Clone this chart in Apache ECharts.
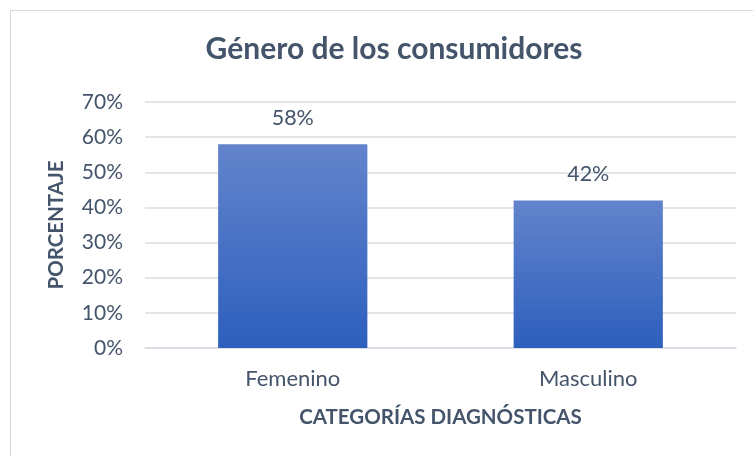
<!DOCTYPE html>
<html>
<head>
    <meta charset="utf-8">
    <title>index</title>
    <style>
        html, body { margin: 0; padding: 0; background: #fff; }
        #container { width: 753px; height: 456px; }
    </style>
</head>
<body>
    <div id="container"></div>
<script src="https://cdn.jsdelivr.net/npm/echarts@6/dist/echarts.min.js"></script>
<script type="text/javascript">
    var categories = ['Femenino', 'Masculino'];
    var values = [58, 42];
    var yTicks = [0, 10, 20, 30, 40, 50, 60, 70];

    var txt = '#44546a';
    var font = 'Lato';

    var myChart = echarts.init(document.getElementById('container'));

    var option = {
        backgroundColor: '#fff',
        graphic: [{
            type: 'rect',
            shape: { x: 10.5, y: 10.5, width: 760, height: 460 },
            style: { fill: 'none', stroke: '#d9d9d9', lineWidth: 1 },
            silent: true
        }],
        title: {
            text: 'Género de los consumidores',
            left: 389,
            textAlign: 'center',
            top: 29,
            textStyle: { fontFamily: font, fontSize: 30, fontWeight: 'bold', color: txt }
        },
        grid: { left: 145, right: 17, top: 102, bottom: 108, containLabel: false },
        xAxis: {
            type: 'category',
            data: categories,
            name: 'CATEGORÍAS DIAGNÓSTICAS',
            nameLocation: 'middle',
            nameGap: 59,
            nameTextStyle: { fontFamily: font, fontSize: 20.5, fontWeight: 'bold', color: txt },
            axisLine: { lineStyle: { color: '#d9dde3', width: 1.5 } },
            axisTick: { show: false },
            axisLabel: { fontFamily: font, fontSize: 22, color: txt, margin: 20 }
        },
        yAxis: {
            type: 'value',
            min: yTicks[0],
            max: yTicks[yTicks.length - 1],
            interval: 10,
            name: 'PORCENTAJE',
            nameLocation: 'middle',
            nameGap: 78,
            nameTextStyle: { fontFamily: font, fontSize: 20.5, fontWeight: 'bold', color: txt },
            axisLine: { show: false },
            axisTick: { show: false },
            splitLine: { lineStyle: { color: '#d9dde3', width: 1.5 } },
            axisLabel: {
                fontFamily: font, fontSize: 21, color: txt, margin: 22,
                formatter: function (v) { return v + '%'; }
            }
        },
        series: [{
            type: 'bar',
            data: values,
            barWidth: '50.5%',
            itemStyle: {
                color: new echarts.graphic.LinearGradient(0, 0, 0, 1, [
                    { offset: 0, color: '#6384cc' },
                    { offset: 1, color: '#2d5fbd' }
                ])
            },
            label: {
                show: true,
                position: 'top',
                distance: 15,
                fontFamily: font, fontSize: 21.5, color: txt,
                formatter: function (p) { return p.value + '%'; }
            }
        }]
    };
    myChart.setOption(option, true);
</script>
</body>
</html>
